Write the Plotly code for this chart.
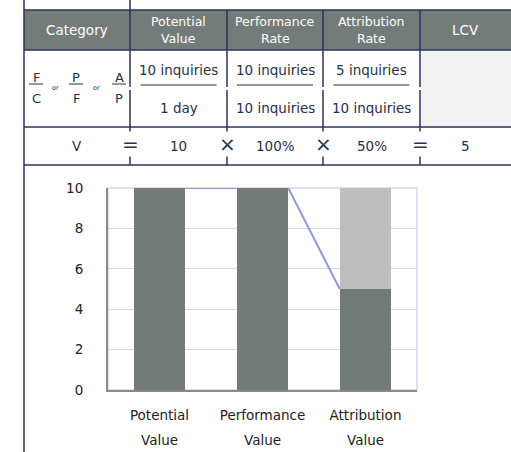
import plotly.graph_objects as go

# ---- data -------------------------------------------------------------
header_labels = [["Category"], ["Potential", "Value"], ["Performance", "Rate"],
                 ["Attribution", "Rate"], ["LCV"]]
numerators = ["10 inquiries", "10 inquiries", "5 inquiries"]
denominators = ["1 day", "10 inquiries", "10 inquiries"]
formula_values = ["10", "100%", "50%", "5"]
formula_ops = ["=", "×", "×", "="]
fraction_tops = ["F", "P", "A"]
fraction_bottoms = ["C", "F", "P"]

bar_categories = ["Potential", "Performance", "Attribution"]
bar_second_line = ["Value", "Value", "Value"]
retained_value = [10, 10, 5]
lost_value = [0, 0, 5]
y_ticks = [0, 2, 4, 6, 8, 10]

# ---- style ------------------------------------------------------------
W, H = 511, 452
NAVY = "#2b3257"
HEAD = "#747c79"
DARK_BAR = "#737b78"
LIGHT_BAR = "#bebebe"
CONNECT = "#8e9bd6"
GRID = "#d3d8f0"
TXT = "#2a3044"
FONT = "DejaVu Sans"


def px(x):
    return x / W


def py(y):
    return 1 - y / H


shapes = []
annotations = []


def hline(x0, x1, y, color=NAVY, width=1.5):
    shapes.append(dict(type="line", xref="paper", yref="paper",
                       x0=px(x0), x1=px(x1), y0=py(y), y1=py(y),
                       line=dict(color=color, width=width)))


def vline(x, y0, y1, color=NAVY, width=1.5):
    shapes.append(dict(type="line", xref="paper", yref="paper",
                       x0=px(x), x1=px(x), y0=py(y0), y1=py(y1),
                       line=dict(color=color, width=width)))


def rect(x0, y0, x1, y1, fill):
    shapes.append(dict(type="rect", xref="paper", yref="paper",
                       x0=px(x0), x1=px(x1), y0=py(y1), y1=py(y0),
                       fillcolor=fill, line=dict(width=0), layer="below"))


def text(x, y, s, size=13, color=TXT, **kw):
    annotations.append(dict(xref="paper", yref="paper", x=px(x), y=py(y),
                            text=s, showarrow=False, xanchor="center",
                            yanchor="middle",
                            font=dict(family=FONT, size=size, color=color),
                            **kw))


# ---- table ------------------------------------------------------------
col_edges = [24, 130, 227, 323, 420, 511]
col_mid = [(a + b) / 2 for a, b in zip(col_edges[:-1], col_edges[1:])]
row_top, head_bot, frac_bot, form_bot = 10, 50, 127, 165

rect(24, row_top, 511, head_bot, HEAD)
rect(420, head_bot, 511, frac_bot, "#f2f2f2")

for y in (row_top, head_bot, frac_bot, form_bot):
    hline(24, 511, y)
vline(24, 0, H)
vline(130, 0, form_bot)
for x in col_edges[2:5]:
    vline(x, row_top, form_bot)

# small breaks in the column rules at the fraction bar height
for x in col_edges[1:5]:
    shapes.append(dict(type="rect", xref="paper", yref="paper",
                       x0=px(x - 1.5), x1=px(x + 1.5), y0=py(90), y1=py(87),
                       fillcolor="white", line=dict(width=0)))

for i, lines in enumerate(header_labels):
    if len(lines) == 1:
        text(col_mid[i], 30, lines[0], size=13.5, color="white")
    else:
        text(col_mid[i], 22, lines[0], size=12.5, color="white")
        text(col_mid[i], 38, lines[1], size=12.5, color="white")

# left cell: F/C or P/F or A/P
frac_x = [36, 76, 119]
for i in range(3):
    text(frac_x[i], 77, fraction_tops[i], size=13)
    text(frac_x[i], 98, fraction_bottoms[i], size=13)
    hline(frac_x[i] - 7, frac_x[i] + 7, 84, color=TXT, width=1)
for x in (55, 96):
    text(x, 88, "or", size=6.5)

# ratio cells
for i in range(3):
    c = col_mid[i + 1]
    text(c, 70, numerators[i], size=13.5)
    text(c, 108, denominators[i], size=13.5)
    hline(c - 38, c + 38, 85, color=TXT, width=1)

# formula row
text(col_mid[0], 146, "V", size=13.5)
for i, v in enumerate(formula_values):
    text(col_mid[i + 1], 146, v, size=13.5)
for i, op in enumerate(formula_ops):
    text(col_edges[i + 1], 144, op, size=20, color=NAVY,
         bgcolor="white", borderpad=0)

# ---- chart ------------------------------------------------------------
n = len(bar_categories)
idx = list(range(n))
bar_w = 0.5

fig = go.Figure()
fig.add_trace(go.Bar(x=idx, y=retained_value, width=bar_w,
                     marker=dict(color=DARK_BAR, line=dict(width=0)),
                     hoverinfo="skip"))
fig.add_trace(go.Bar(x=idx, y=lost_value, width=bar_w,
                     marker=dict(color=LIGHT_BAR, line=dict(width=0)),
                     hoverinfo="skip"))

# connectors from each bar top to the next bar's retained top
cx, cy = [], []
for i in range(n - 1):
    cx += [i + bar_w / 2, i + 1 - bar_w / 2, None]
    cy += [retained_value[i], retained_value[i + 1], None]
fig.add_trace(go.Scatter(x=cx, y=cy, mode="lines",
                         line=dict(color=CONNECT, width=2),
                         hoverinfo="skip", cliponaxis=False))

x_dom = [px(108), px(417)]
y_dom = [py(390), py(188)]

# light frame around the plotting area
shapes.append(dict(type="rect", xref="paper", yref="paper",
                   x0=x_dom[0], x1=x_dom[1], y0=y_dom[0], y1=y_dom[1],
                   line=dict(color=GRID, width=1.5), layer="below"))

for i in idx:
    annotations.append(dict(xref="x", yref="paper", x=i, y=py(440),
                            text=bar_second_line[i], showarrow=False,
                            yanchor="middle",
                            font=dict(family=FONT, size=13.5, color="#222")))

fig.update_layout(
    width=W, height=H,
    margin=dict(l=0, r=0, t=0, b=0, pad=0, autoexpand=False),
    paper_bgcolor="white", plot_bgcolor="white",
    barmode="stack", bargap=0, showlegend=False,
    shapes=shapes, annotations=annotations,
    font=dict(family=FONT, size=13.5, color="#222"),
    xaxis=dict(domain=x_dom, range=[-0.5, n - 0.5], tickvals=idx,
               ticktext=bar_categories, showgrid=False, zeroline=False,
               showline=True, linecolor="#8a8a8a", linewidth=2,
               ticks="", ticklabelstandoff=12, automargin=False,
               fixedrange=True),
    yaxis=dict(domain=y_dom, range=[0, 10], tickvals=y_ticks,
               showgrid=True, gridcolor=GRID, gridwidth=1, zeroline=False,
               showline=True, linecolor="#8a8a8a", linewidth=2,
               ticks="", ticklabelstandoff=20, automargin=False,
               fixedrange=True),
)

fig.write_html("out.html")
